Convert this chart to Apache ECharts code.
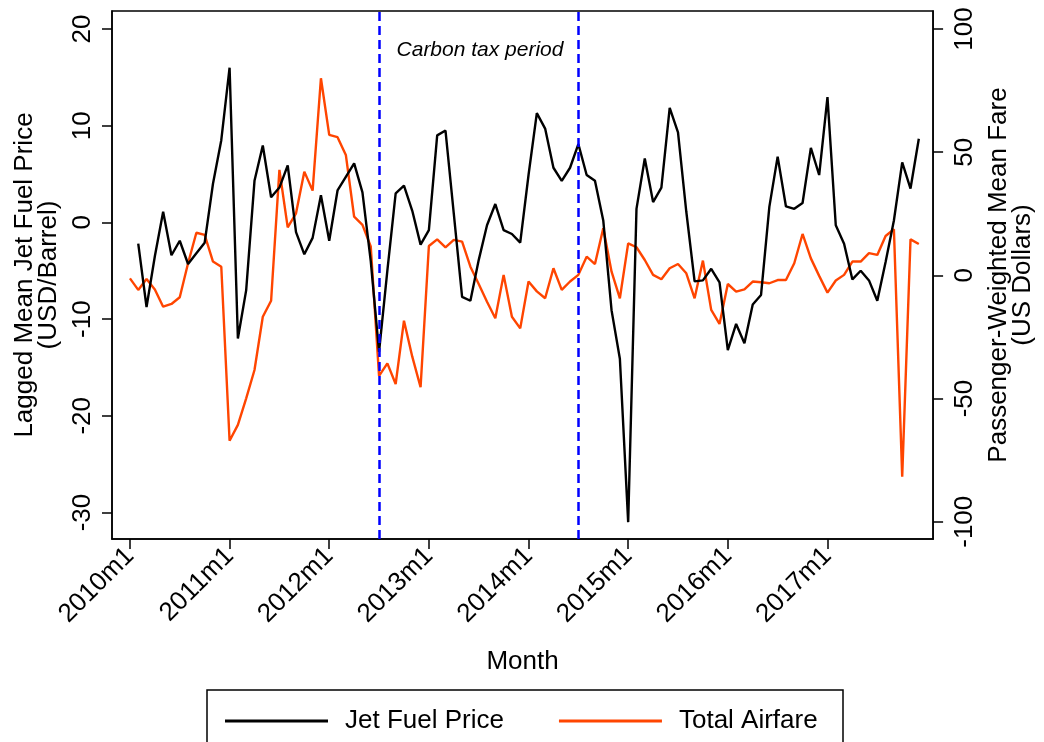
<!DOCTYPE html>
<html><head><meta charset="utf-8">
<script src="https://cdn.jsdelivr.net/npm/echarts@6/dist/echarts.min.js"></script>
<style>html,body{margin:0;padding:0;background:#fff}#c{width:1044px;height:742px}</style>
</head><body><div id="c"></div>
<script>
// Month index 0 = 2010m1 ... 95 = 2017m12
const jetFuelPrice = [
  null, -2.2, -8.75, -3.5, 1.1, -3.4, -1.9, -4.3, -3.2, -2.1, 4.0, 8.5,
  16.0, -12.0, -7.0, 4.3, 7.95, 2.6, 3.6, 5.9, -1.0, -3.3, -1.6, 2.8,
  -1.9, 3.3, 4.7, 6.1, 3.1, -4.0, -13.4, -5.0, 3.0, 3.8, 1.2, -2.3,
  -0.8, 9.0, 9.5, 0.9, -7.7, -8.1, -3.9, -0.3, 1.9, -0.8, -1.2, -2.1,
  4.9, 11.3, 9.7, 5.65, 4.3, 5.65, 8.1, 4.9, 4.3, 0.2, -9.1, -14.1,
  -31.0, 1.4, 6.6, 2.1, 3.6, 11.85, 9.3, 1.1, -6.1, -6.0, -4.8, -6.2,
  -13.2, -10.5, -12.5, -8.5, -7.5, 1.6, 6.8, 1.65, 1.4, 2.0, 7.7, 4.9,
  12.95, -0.3, -2.2, -5.9, -5.0, -6.0, -8.1, -4.1, 0.2, 6.2, 3.5, 8.65
];
const totalAirfare = [
  -1.2, -5.9, -1.5, -5.7, -12.7, -11.6, -8.9, 4.9, 17.3, 16.4, 5.6, 3.5,
  -67.1, -60.7, -49.9, -38.4, -16.8, -10.3, 42.8, 19.5, 25.2, 42.1, 34.4, 80.0,
  57.0, 56.1, 48.9, 23.8, 20.5, 11.7, -40.8, -35.7, -44.1, -18.4, -33.0, -45.4,
  11.9, 14.6, 11.4, 14.4, 13.7, 3.5, -3.5, -10.7, -17.4, 0.2, -16.8, -21.5,
  -2.5, -6.5, -9.3, 2.9, -5.9, -2.5, 0.2, 7.6, 4.6, 19.1, 1.5, -9.3,
  13.0, 11.4, 6.25, 0.2, -1.6, 2.9, 4.6, 0.85, -9.3, 6.0, -14.0, -19.7,
  -3.5, -6.6, -5.7, -2.5, -2.8, -3.2, -1.9, -1.9, 4.9, 16.8, 6.9, -0.2,
  -7.0, -2.1, 0.2, 5.6, 5.6, 9.0, 8.3, 16.0, 18.7, -81.7, 14.6, 12.7
];
const tickMonths = [0, 12, 24, 36, 48, 60, 72, 84];
const tickLabels = ['2010m1', '2011m1', '2012m1', '2013m1', '2014m1', '2015m1', '2016m1', '2017m1'];
const leftTicks = [-30, -20, -10, 0, 10, 20];
const rightTicks = [-100, -50, 0, 50, 100];
const carbonTaxMonths = [30, 54]; // 2012m7, 2014m7

const FONT = '"Liberation Sans", Arial, Helvetica, sans-serif';
const chart = echarts.init(document.getElementById('c'), null, {renderer: 'canvas'});
const axisCommon = {
  axisLine: {show: true, onZero: false, lineStyle: {color: '#000', width: 1.5}},
  splitLine: {show: false}
};
const option = {
  animation: false,
  backgroundColor: '#fff',
  grid: {left: 112, right: 108, top: 11, bottom: 203, show: true, borderColor: '#000', borderWidth: 1.5},
  xAxis: Object.assign({}, axisCommon, {
    type: 'value', min: -2.16, max: 96.72,
    name: 'Month', nameLocation: 'middle', nameGap: 110,
    nameTextStyle: {fontSize: 26, color: '#000', fontFamily: FONT},
    axisTick: {show: true, length: 10, lineStyle: {color: '#000', width: 1.5}, customValues: tickMonths},
    axisLabel: {rotate: 45, margin: 13, fontSize: 26, color: '#000', fontFamily: FONT,
      customValues: tickMonths, formatter: v => tickLabels[tickMonths.indexOf(v)]}
  }),
  yAxis: [
    Object.assign({}, axisCommon, {
      type: 'value', position: 'left', min: -32.74, max: 21.86,
      name: 'Lagged Mean Jet Fuel Price\n(USD/Barrel)', nameLocation: 'middle', nameRotate: 90, nameGap: 44,
      nameTextStyle: {fontSize: 26, lineHeight: 24, color: '#000', fontFamily: FONT, align: 'center'},
      axisTick: {show: true, length: 10, lineStyle: {color: '#000', width: 1.5}, customValues: leftTicks},
      axisLabel: {rotate: 90, margin: 16, fontSize: 26, color: '#000', fontFamily: FONT, customValues: leftTicks}
    }),
    Object.assign({}, axisCommon, {
      type: 'value', position: 'right', min: -107.0, max: 107.3,
      name: 'Passenger-Weighted Mean Fare\n(US Dollars)', nameLocation: 'middle', nameRotate: 90, nameGap: 50,
      nameTextStyle: {fontSize: 26, lineHeight: 24, color: '#000', fontFamily: FONT, align: 'center'},
      axisTick: {show: true, length: 10, lineStyle: {color: '#000', width: 1.5}, customValues: rightTicks},
      axisLabel: {rotate: 90, margin: 19, fontSize: 26, color: '#000', fontFamily: FONT, customValues: rightTicks}
    })
  ],
  legend: {
    left: 220, top: 701, itemGap: 55, itemWidth: 103, itemHeight: 3, icon: 'rect',
    textStyle: {fontSize: 26, color: '#000', fontFamily: FONT, padding: [0, 0, 0, 12], lineHeight: 30},
    data: ['Jet Fuel Price', 'Total Airfare']
  },
  graphic: [
    {type: 'rect', shape: {x: 207, y: 690, width: 636, height: 70}, style: {fill: 'none', stroke: '#000', lineWidth: 1.5}, z: 100},
    {type: 'text', x: 480, y: 50, style: {text: 'Carbon tax period', font: 'italic 21px "Liberation Sans", Arial, sans-serif', fill: '#000', textAlign: 'center', textVerticalAlign: 'middle'}, z: 100}
  ],
  series: [
    {
      name: 'carbon', type: 'line', yAxisIndex: 0, data: [], z: 1, silent: true,
      markLine: {silent: true, symbol: ['none', 'none'], label: {show: false},
        lineStyle: {color: '#0000ff', type: [9, 5], width: 2.5},
        data: carbonTaxMonths.map(m => ({xAxis: m}))}
    },
    {
      name: 'Jet Fuel Price', type: 'line', yAxisIndex: 0, z: 3,
      data: jetFuelPrice.map((v, i) => [i, v]),
      showSymbol: false, symbol: 'none', connectNulls: false,
      lineStyle: {color: '#000', width: 2.4}, itemStyle: {color: '#000'}
    },
    {
      name: 'Total Airfare', type: 'line', yAxisIndex: 1, z: 2,
      data: totalAirfare.map((v, i) => [i, v]),
      showSymbol: false, symbol: 'none',
      lineStyle: {color: '#ff4500', width: 2.4}, itemStyle: {color: '#ff4500'}
    }
  ]
};
chart.setOption(option);
</script></body></html>
